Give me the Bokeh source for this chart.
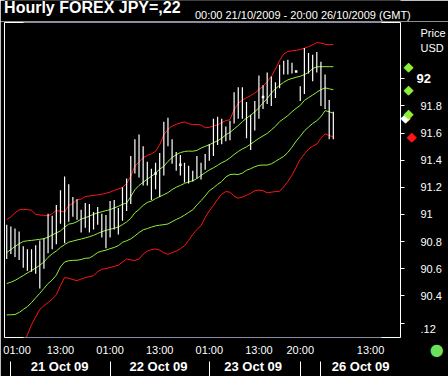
from bokeh.plotting import figure
from bokeh.models import Range1d, LinearAxis, FixedTicker, ColumnDataSource
from bokeh.layouts import column
from bokeh.embed import file_html
from bokeh.resources import INLINE

# ---------------- data ----------------
title_text = "Hourly FOREX JPY=,22"
period_text = "00:00 21/10/2009 - 20:00 26/10/2009 (GMT)"
price_caption = "Price"
currency_caption = "USD"

# hourly bars (index 0 = first bar of 21 Oct 09)
high = [90.925, 90.911, 90.896, 90.874, 90.766, 90.744, 90.744, 90.773, 90.809, 90.824,
        91.005, 90.990, 91.070, 91.178, 91.279, 91.222, 91.128, 91.113, 91.034, 91.084,
        91.077, 91.019, 91.055, 91.005, 90.997, 91.099, 91.106, 91.048, 91.200, 91.265,
        91.431, 91.554, 91.590, 91.503, 91.388, 91.337, 91.381, 91.453, 91.684, 91.713,
        91.554, 91.460, 91.438, 91.381, 91.359, 91.323, 91.431, 91.381, 91.446, 91.518,
        91.706, 91.720, 91.706, 91.648, 91.691, 91.901, 91.937, 91.937, 91.829, 91.735,
        91.836, 92.024, 91.952, 92.046, 92.017, 91.974, 92.104, 92.133, 92.140, 92.118,
        92.057, 91.945, 92.227, 92.190, 92.176, 92.198, 92.125, 92.031, 91.843, 91.757]
low = [90.672, 90.708, 90.686, 90.665, 90.607, 90.585, 90.578, 90.564, 90.455, 90.600,
       90.715, 90.744, 90.780, 90.932, 90.788, 90.947, 90.983, 90.961, 90.867, 90.903,
       90.867, 90.889, 90.925, 90.831, 90.752, 90.831, 90.889, 90.853, 90.954, 91.026,
       91.077, 91.301, 91.272, 91.214, 91.214, 91.106, 91.185, 91.128, 91.287, 91.503,
       91.373, 91.323, 91.287, 91.236, 91.229, 91.243, 91.265, 91.258, 91.330, 91.395,
       91.431, 91.511, 91.518, 91.540, 91.547, 91.670, 91.706, 91.706, 91.561, 91.475,
       91.619, 91.706, 91.778, 91.814, 91.800, 91.858, 91.930, 92.031, 92.031, 92.039,
       92.049, 91.836, 91.887, 92.039, 91.981, 92.046, 91.800, 91.778, 91.554, 91.554]
last_close = 91.713

# small square marks on some bars
dot_index = [36, 42, 62, 70]
dot_price = [91.301, 91.366, 91.865, 92.053]

upper_red = [90.961, 90.983, 91.012, 91.034, 91.036, 91.036, 91.031, 91.001, 90.996, 90.994,
             90.990, 91.005, 91.030, 91.023, 91.019, 91.066, 91.081, 91.109, 91.113, 91.133,
             91.136, 91.140, 91.145, 91.149, 91.156, 91.165, 91.178, 91.188, 91.198, 91.229,
             91.281, 91.355, 91.388, 91.418, 91.435, 91.447, 91.465, 91.514, 91.588, 91.626,
             91.652, 91.664, 91.675, 91.682, 91.668, 91.663, 91.663, 91.659, 91.639, 91.642,
             91.652, 91.660, 91.677, 91.691, 91.699, 91.771, 91.818, 91.843, 91.860, 91.876,
             91.895, 91.919, 91.945, 91.979, 92.017, 92.071, 92.134, 92.183, 92.201, 92.206,
             92.209, 92.216, 92.225, 92.237, 92.250, 92.266, 92.263, 92.254, 92.251, 92.253]
upper_green = [90.719, 90.742, 90.764, 90.784, 90.801, 90.806, 90.809, 90.813, 90.817, 90.822,
               90.833, 90.849, 90.864, 90.879, 90.906, 90.929, 90.934, 90.947, 90.966, 90.976,
               90.988, 91.001, 91.012, 91.020, 91.028, 91.036, 91.048, 91.060, 91.075, 91.084,
               91.131, 91.182, 91.214, 91.237, 91.261, 91.281, 91.305, 91.334, 91.355, 91.391,
               91.420, 91.440, 91.456, 91.464, 91.467, 91.466, 91.472, 91.489, 91.502, 91.514,
               91.529, 91.543, 91.561, 91.587, 91.605, 91.630, 91.655, 91.684, 91.710, 91.731,
               91.757, 91.786, 91.822, 91.854, 91.894, 91.926, 91.952, 91.974, 91.992, 92.002,
               92.011, 92.018, 92.031, 92.046, 92.075, 92.088, 92.089, 92.089, 92.089, 92.089]
mid_green = [90.491, 90.501, 90.514, 90.532, 90.550, 90.569, 90.587, 90.605, 90.626, 90.650,
             90.684, 90.710, 90.731, 90.757, 90.778, 90.796, 90.804, 90.812, 90.819, 90.827,
             90.836, 90.846, 90.860, 90.873, 90.883, 90.891, 90.898, 90.908, 90.925, 90.945,
             90.972, 91.012, 91.037, 91.067, 91.089, 91.099, 91.117, 91.131, 91.146, 91.161,
             91.183, 91.201, 91.214, 91.229, 91.240, 91.248, 91.265, 91.287, 91.308, 91.328,
             91.344, 91.362, 91.381, 91.396, 91.417, 91.442, 91.464, 91.483, 91.498, 91.518,
             91.540, 91.561, 91.579, 91.597, 91.623, 91.650, 91.684, 91.706, 91.728, 91.757,
             91.782, 91.804, 91.840, 91.861, 91.880, 91.901, 91.919, 91.933, 91.926, 91.919]
lower_green = [90.260, 90.261, 90.263, 90.278, 90.300, 90.321, 90.350, 90.386, 90.419, 90.455,
               90.491, 90.517, 90.553, 90.614, 90.650, 90.659, 90.662, 90.663, 90.668, 90.677,
               90.679, 90.697, 90.720, 90.730, 90.737, 90.748, 90.757, 90.770, 90.795, 90.806,
               90.820, 90.842, 90.867, 90.887, 90.896, 90.907, 90.916, 90.921, 90.925, 90.930,
               90.947, 90.963, 90.977, 90.995, 91.015, 91.034, 91.070, 91.102, 91.136, 91.175,
               91.196, 91.222, 91.243, 91.276, 91.294, 91.297, 91.294, 91.305, 91.326, 91.337,
               91.352, 91.362, 91.364, 91.364, 91.373, 91.391, 91.410, 91.428, 91.457, 91.496,
               91.540, 91.576, 91.616, 91.644, 91.670, 91.691, 91.720, 91.765, 91.757, 91.746]
lower_red = [89.768, 89.840, 89.913, 89.971, 90.028, 90.115, 90.188, 90.245, 90.300, 90.328,
             90.352, 90.376, 90.408, 90.477, 90.535, 90.530, 90.520, 90.513, 90.524, 90.535,
             90.542, 90.549, 90.578, 90.597, 90.601, 90.609, 90.618, 90.626, 90.650, 90.672,
             90.665, 90.661, 90.672, 90.708, 90.730, 90.741, 90.746, 90.737, 90.718, 90.707,
             90.719, 90.730, 90.748, 90.770, 90.809, 90.853, 90.889, 90.918, 90.978, 91.026,
             91.066, 91.113, 91.149, 91.169, 91.164, 91.135, 91.120, 91.128, 91.142, 91.156,
             91.175, 91.180, 91.175, 91.160, 91.164, 91.169, 91.171, 91.203, 91.243, 91.290,
             91.348, 91.406, 91.446, 91.482, 91.503, 91.518, 91.561, 91.594, 91.583, 91.571]

# axis ticks
price_ticks = [90.2, 90.4, 90.6, 90.8, 91.0, 91.2, 91.4, 91.6, 91.8, 92.0]
price_tick_labels = [".12", "90.4", "90.6", "90.8", "91", "91.2", "91.4", "91.6", "91.8", "92"]
hour_tick_pos = [2.5, 13, 25, 37, 49, 61, 71, 88]
hour_tick_labels = ["01:00", "13:00", "01:00", "13:00", "01:00", "13:00", "20:00", "13:00"]
day_separators = [1, 25, 49, 71, 76]
day_label_pos = [12.8, 36.7, 59.6, 85.6]
day_labels = ["21 Oct 09", "22 Oct 09", "23 Oct 09", "26 Oct 09"]

# ---------------- layout / style ----------------
W, H = 448, 376
HEAD_H = 21
FL, FR, FT, FB = 4, 413, 22, 343          # plot frame, canvas pixels
BAR0_PX, BAR_STEP = 6.3, 4.27
P_TOP, P_BOT = 92.4145, 90.0935
FONT = "Liberation Sans"
SYM_FONT = "DejaVu Sans"
RED = "#ff1414"
GREEN = "#8fee3c"
GREY = "#8c8ca4"
WHITE = "#ffffff"
DOT_GREEN = "#6fe05c"
DIAMOND = "\u25c6"
DOT = "\u25cf"


def xpx(px):
    return (px - BAR0_PX) / BAR_STEP


def ypx(py):
    return P_TOP - (py - FT) * (P_TOP - P_BOT) / (FB - FT)


X_START, X_END = xpx(FL), xpx(FR)


def axis(ticks=(), labels=None, minor=(), size="11px", font=FONT, color=WHITE, standoff=0, **kw):
    ticks = list(ticks)
    ax = LinearAxis(ticker=FixedTicker(ticks=ticks, minor_ticks=list(minor)),
                    major_label_standoff=standoff,
                    major_tick_out=0, major_tick_in=0, minor_tick_out=0, minor_tick_in=0,
                    major_tick_line_color=None, minor_tick_line_color=None,
                    axis_line_color=None,
                    major_label_text_color=color, major_label_text_font=font,
                    major_label_text_font_size=size)
    if labels is not None:
        ax.major_label_overrides = dict(zip(ticks, labels))
    for k, v in kw.items():
        setattr(ax, k, v)
    return ax


# ---------------- header strip: 1px frame at top, texts as axis labels below it ----------------
head = figure(width=W, height=HEAD_H, title=None, x_range=Range1d(0, W), y_range=Range1d(0, 1),
              output_backend="svg", toolbar_location=None, x_axis_location=None, y_axis_location=None,
              min_border_left=0, min_border_right=0, min_border_top=0, min_border_bottom=HEAD_H - 1,
              background_fill_color="black", border_fill_color="black", outline_line_color=None)
head.grid.visible = False
head.add_layout(axis([91.25], [title_text], size="16px", standoff=-2,
                     major_label_text_font_style="bold"), "below")
head.add_layout(axis([337.5], [period_text], size="11px", standoff=-10), "below")

# ---------------- chart ----------------
p = figure(width=W, height=H - HEAD_H, title=None,
           x_range=Range1d(X_START, X_END), y_range=Range1d(P_BOT, P_TOP),
           output_backend="svg", toolbar_location=None,
           x_axis_location=None, y_axis_location=None,
           min_border_left=FL, min_border_right=W - FR,
           min_border_top=FT - HEAD_H, min_border_bottom=H - FB,
           background_fill_color="black", border_fill_color="black",
           outline_line_color=None)
p.grid.visible = False

idx = list(range(len(high)))
for series, color in [(upper_red, RED), (lower_red, RED), (upper_green, GREEN),
                      (mid_green, GREEN), (lower_green, GREEN)]:
    p.line(idx, series, line_color=color, line_width=1)

bars = ColumnDataSource(dict(i=idx, high=high, low=low))
p.segment(x0="i", y0="low", x1="i", y1="high", source=bars, line_color=WHITE, line_width=1.2)
p.scatter(dot_index, dot_price, marker="square", size=2.5, fill_color=WHITE, line_color=None)

grey_bounds = (xpx(24), xpx(393))

# frame edges
p.add_layout(axis(axis_line_color=WHITE), "left")
p.add_layout(axis(axis_line_color=WHITE), "above")
p.add_layout(axis(axis_line_color=GREY, bounds=grey_bounds), "above")
p.add_layout(axis(axis_line_color=WHITE), "below")
p.add_layout(axis(axis_line_color=GREY, bounds=grey_bounds), "below")

# time axis: hour labels + day row with separators + status dot
p.add_layout(axis(hour_tick_pos, hour_tick_labels, standoff=6), "below")
p.add_layout(axis(day_label_pos, day_labels, minor=day_separators, size="13px", standoff=-19,
                  major_label_text_font_style="bold", minor_tick_line_color=WHITE,
                  minor_tick_out=19, minor_tick_in=-3), "below")
p.add_layout(axis([X_END], ["\u00a0" * 18 + DOT], size="16px", font=SYM_FONT, color=DOT_GREEN,
                  standoff=-37), "below")

# price axis (stacked side panels, overlapping via negative standoffs)
p.add_layout(axis([last_close], [DIAMOND], minor=price_ticks, size="13px", font=SYM_FONT,
                  standoff=-4, axis_line_color=WHITE, minor_tick_line_color=WHITE,
                  minor_tick_out=4), "right")
p.add_layout(axis([upper_green[-1], mid_green[-1], lower_green[-1]], [DIAMOND] * 3,
                  size="13px", font=SYM_FONT, color=GREEN, standoff=-10), "right")
p.add_layout(axis([lower_red[-1]], [DIAMOND], size="13px", font=SYM_FONT, color=RED,
                  standoff=-10), "right")
p.add_layout(axis([price_ticks[-1]], [price_tick_labels[-1]], size="13px", standoff=-3,
                  major_label_text_font_style="bold"), "right")
label_ticks = [ypx(334.5)] + price_ticks[1:-1] + [ypx(32.5), ypx(48)]
label_texts = [price_tick_labels[0]] + price_tick_labels[1:-1] + [price_caption, currency_caption]
p.add_layout(axis(label_ticks, label_texts, standoff=-13), "right")

open("out.html", "w").write(file_html(column(head, p, spacing=0), INLINE))
